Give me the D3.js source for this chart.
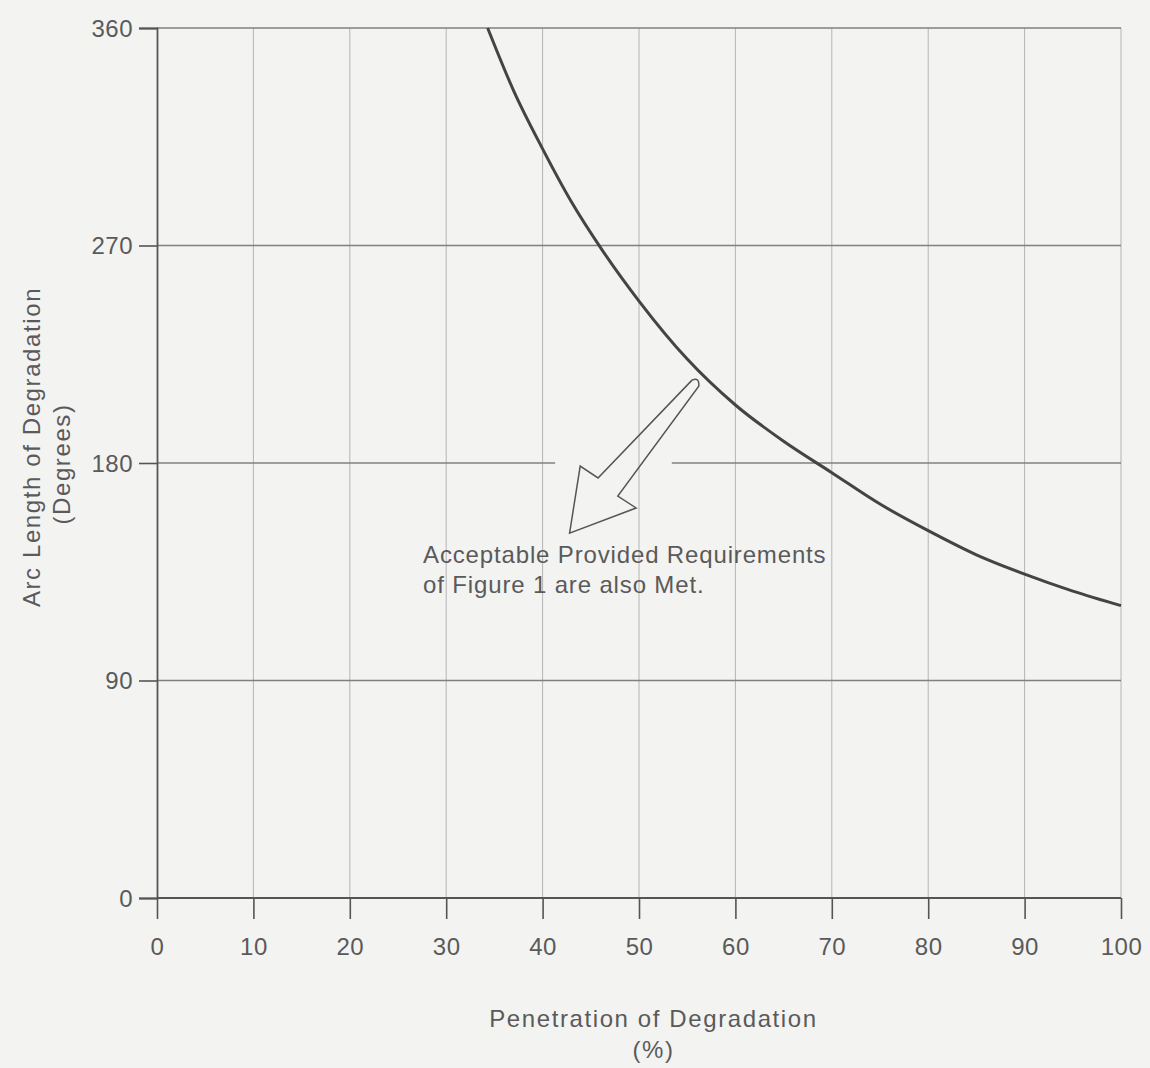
<!DOCTYPE html>
<html>
<head>
<meta charset="utf-8">
<script src="https://cdn.jsdelivr.net/npm/d3@7"></script>
<style>
  body { margin: 0; background: #f3f3f2; }
  svg { display: block; }
  text { font-family: "Liberation Sans", Arial, sans-serif; fill: #5a5a5a; }
</style>
</head>
<body>
<svg width="1150" height="1068"></svg>
<script>
// limit curve: penetration (%) vs arc length (degrees)
var penetration = [34.3, 37, 40, 43, 46.2, 50, 55, 60, 65, 70, 75, 80, 85, 90, 95, 100];
var arcLength   = [360, 334, 310, 288, 268, 247, 223, 204, 189, 176, 163, 152, 142, 134, 127, 121];
var xTicks = [0, 10, 20, 30, 40, 50, 60, 70, 80, 90, 100];
var yTicks = [0, 90, 180, 270, 360];

var svg = d3.select('svg');
var x = d3.scaleLinear().domain([0, 100]).range([157, 1121]);
var y = d3.scaleLinear().domain([0, 360]).range([898, 28]);

// vertical grid
svg.append('g').selectAll('line').data(xTicks.slice(1)).enter().append('line')
  .attr('x1', d => x(d)).attr('x2', d => x(d))
  .attr('y1', y(360)).attr('y2', y(0))
  .attr('stroke', '#b4b4b4').attr('stroke-width', 1);

// horizontal grid (180 line is broken for the arrow)
var gridY = svg.append('g');
[90, 270, 360].forEach(function(v) {
  gridY.append('line').attr('x1', x(0)).attr('x2', x(100)).attr('y1', y(v)).attr('y2', y(v))
    .attr('stroke', '#808080').attr('stroke-width', 1.6);
});
gridY.append('line').attr('x1', x(0)).attr('x2', x(41.3)).attr('y1', y(180)).attr('y2', y(180))
  .attr('stroke', '#808080').attr('stroke-width', 1.6);
gridY.append('line').attr('x1', x(53.4)).attr('x2', x(100)).attr('y1', y(180)).attr('y2', y(180))
  .attr('stroke', '#808080').attr('stroke-width', 1.6);

// axes
var xAxis = svg.append('g').attr('transform', 'translate(0,' + y(0) + ')')
  .call(d3.axisBottom(x).tickValues(xTicks).tickSize(21).tickPadding(19).tickFormat(d3.format('d')));
var yAxis = svg.append('g').attr('transform', 'translate(' + x(0) + ',0)')
  .call(d3.axisLeft(y).tickValues(yTicks).tickSize(18).tickPadding(6).tickFormat(d3.format('d')));
[xAxis, yAxis].forEach(function(g) {
  g.select('.domain').attr('stroke', '#555').attr('stroke-width', 1.8);
  g.selectAll('.tick line').attr('stroke', '#555').attr('stroke-width', 1.6);
  g.selectAll('.tick text').attr('font-size', 24).attr('fill', '#5a5a5a').attr('letter-spacing', 0.5)
    .style('font-family', '"Liberation Sans", Arial, sans-serif');
});
yAxis.selectAll('.tick text').attr('dy', '0.35em');
xAxis.select('.domain').attr('d', 'M' + x(0) + ',0H' + x(100));

// limit curve
var line = d3.line().x((d, i) => x(penetration[i])).y(d => y(d)).curve(d3.curveMonotoneX);
svg.append('path').datum(arcLength).attr('d', line)
  .attr('fill', 'none').attr('stroke', '#444').attr('stroke-width', 3);

// annotation arrow (outline, in data units)
var arrow = [[55.5, 214.3], [45.75, 173.8], [43.9, 178.7], [42.8, 151], [49.7, 161.4], [47.8, 166.3], [56.2, 211.8]];
svg.append('path')
  .attr('d', 'M' + arrow.map(p => x(p[0]) + ',' + y(p[1])).join('L') +
    'Q' + x(56.3) + ',' + y(215.6) + ' ' + x(55.5) + ',' + y(214.3) + 'Z')
  .attr('fill', 'none').attr('stroke', '#555').attr('stroke-width', 1.5);

var note = svg.append('text').attr('x', x(27.6)).attr('y', y(138.5))
  .attr('font-size', 24).attr('letter-spacing', 0.85);
note.append('tspan').text('Acceptable Provided Requirements');
note.append('tspan').attr('x', x(27.6)).attr('dy', 30).text('of Figure 1 are also Met.');

// axis titles
svg.append('text').attr('x', x(51.5)).attr('y', 1027).attr('text-anchor', 'middle')
  .attr('font-size', 24).attr('letter-spacing', 1.6).text('Penetration of Degradation');
svg.append('text').attr('x', x(51.5)).attr('y', 1058).attr('text-anchor', 'middle')
  .attr('font-size', 24).attr('letter-spacing', 1.6).text('(%)');
svg.append('text').attr('transform', 'translate(40,447) rotate(-90)').attr('text-anchor', 'middle')
  .attr('font-size', 24).attr('letter-spacing', 1.6).text('Arc Length of Degradation');
svg.append('text').attr('transform', 'translate(70,464) rotate(-90)').attr('text-anchor', 'middle')
  .attr('font-size', 24).attr('letter-spacing', 1.6).text('(Degrees)');
</script>
</body>
</html>
